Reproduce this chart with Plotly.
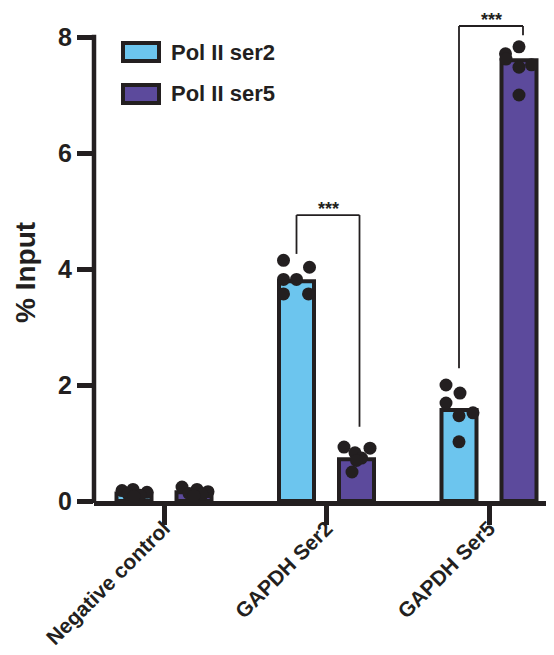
import plotly.graph_objects as go

# ---------------- data ----------------
categories = ["Negative control", "GAPDH Ser2", "GAPDH Ser5"]
series_names = ["Pol II ser2", "Pol II ser5"]
ser2_means = [0.13, 3.79, 1.57]
ser5_means = [0.15, 0.72, 7.60]
ser2_points = [
    [0.18, 0.20, 0.15, 0.12, 0.10, 0.08],
    [4.15, 4.03, 3.82, 3.82, 3.57, 3.57],
    [2.00, 1.86, 1.69, 1.47, 1.52, 1.02],
]
ser5_points = [
    [0.24, 0.20, 0.16, 0.13, 0.11, 0.09],
    [0.93, 0.91, 0.83, 0.74, 0.70, 0.50],
    [7.83, 7.71, 7.62, 7.52, 7.48, 7.00],
]
y_ticks = [0, 2, 4, 6, 8]
sig_labels = ["***", "***"]

# ---------------- layout / style ----------------
PAGE_OFF = 8                      # default body margin of the html page
W_FIG, H_FIG = 554 - PAGE_OFF, 655 - PAGE_OFF
L, R, T, B = 94 - PAGE_OFF, 0, 0, 154
PW = W_FIG - L - R
PH = H_FIG - T - B
PLOT_LEFT = PAGE_OFF + L          # page pixel of plot left edge
PLOT_BOTTOM = PAGE_OFF + H_FIG - B
PX_PER_CAT = 162.5
X_RANGE = [-70 / PX_PER_CAT, -70 / PX_PER_CAT + PW / PX_PER_CAT]
Y_RANGE = [0, 8.5]
BAR_OFFSET = 30 / PX_PER_CAT
BAR_WIDTH = 35 / PX_PER_CAT
INK = "#231f20"
COLORS = ["#6cc5ee", "#5c4a9c"]
FONT = "Liberation Sans, Arial, Helvetica, sans-serif"

# jitter of the dots, in pixels relative to each bar centre
jitter_px = [
    [[-12, -1, 13, -6, 6, 0], [-13, 13, -13, 0, -13, 12], [-13, 1, -13, 0, 14, 0]],
    [[-12, 3, 14, -5, 8, 0], [-12.5, 13.5, -1.5, 5, 0, -4.5], [0, -13.5, -13, 12.5, 0, 0]],
]

# brackets: (category index, left leg bottom, right leg bottom, top, right x nudge px)
brackets = [
    (1, 4.26, 1.28, 4.93, 3),
    (2, 2.29, 8.03, 8.19, 4),
]


def px_x(p):
    return (p - PLOT_LEFT) / PW


def px_y(p):
    return (PLOT_BOTTOM - p) / PH


fig = go.Figure()

means = [ser2_means, ser5_means]
points = [ser2_points, ser5_points]
for s in range(2):
    sign = -1 if s == 0 else 1
    xs = [i + sign * BAR_OFFSET for i in range(len(categories))]
    fig.add_trace(go.Bar(
        x=xs, y=means[s], width=BAR_WIDTH, name=series_names[s],
        marker=dict(color=COLORS[s], line=dict(color=INK, width=4)),
        showlegend=False,
    ))

for s in range(2):
    sign = -1 if s == 0 else 1
    dx, dy = [], []
    for i in range(len(categories)):
        for v, j in zip(points[s][i], jitter_px[s][i]):
            dx.append(i + sign * BAR_OFFSET + j / PX_PER_CAT)
            dy.append(v)
    fig.add_trace(go.Scatter(
        x=dx, y=dy, mode="markers", cliponaxis=False, showlegend=False,
        marker=dict(color=INK, size=13, line=dict(width=0)),
    ))

shapes = []
annotations = []
for (ci, lb, rb, top, nudge), lab in zip(brackets, sig_labels):
    xl = ci - BAR_OFFSET
    xr = ci + BAR_OFFSET + nudge / PX_PER_CAT
    for (x0, y0, x1, y1) in [(xl, lb, xl, top), (xl, top, xr, top), (xr, top, xr, rb)]:
        shapes.append(dict(type="line", xref="x", yref="y", x0=x0, y0=y0, x1=x1, y1=y1,
                           line=dict(color=INK, width=1.8)))
    annotations.append(dict(x=(xl + xr) / 2, y=top, xref="x", yref="y", text=lab,
                            showarrow=False, yanchor="bottom", yshift=-6,
                            font=dict(family=FONT, size=18, color=INK, weight="bold")))

# y axis line, stops at 8
shapes.append(dict(type="line", xref="paper", yref="paper", x0=0, x1=0,
                   y0=px_y(PLOT_BOTTOM + 2), y1=8 / Y_RANGE[1] + 2.2 / PH,
                   line=dict(color=INK, width=4.5)))

# custom legend
leg_rows = [52, 94]
for s in range(2):
    cy = leg_rows[s]
    shapes.append(dict(type="rect", xref="paper", yref="paper",
                       x0=px_x(123), x1=px_x(159), y0=px_y(cy - 9), y1=px_y(cy + 9),
                       fillcolor=COLORS[s], line=dict(color=INK, width=4)))
    annotations.append(dict(x=px_x(169), y=px_y(cy), xref="paper", yref="paper",
                            text=series_names[s], showarrow=False,
                            xanchor="left", yanchor="middle",
                            font=dict(family=FONT, size=22, color=INK, weight="bold")))

# y title
annotations.append(dict(x=px_x(25), y=px_y(273), xref="paper", yref="paper",
                        text="% Input", textangle=-90, showarrow=False,
                        xanchor="center", yanchor="middle",
                        font=dict(family=FONT, size=28, color=INK, weight="bold")))

fig.update_layout(
    width=W_FIG, height=H_FIG,
    margin=dict(l=L, r=R, t=T, b=B, autoexpand=False),
    plot_bgcolor="white", paper_bgcolor="white",
    barmode="overlay",
    shapes=shapes, annotations=annotations,
    font=dict(family=FONT, color=INK),
)
fig.update_xaxes(
    range=X_RANGE, tickvals=list(range(len(categories))), ticktext=categories,
    tickangle=-45, showline=True, linecolor=INK, linewidth=4.5,
    ticks="outside", ticklen=19, tickwidth=4.5, tickcolor=INK,
    ticklabelstandoff=-17,
    showgrid=False, zeroline=False,
    tickfont=dict(family=FONT, size=21, color=INK, weight="bold"),
)
fig.update_yaxes(
    range=Y_RANGE, tickvals=y_ticks, showline=False,
    ticks="outside", ticklen=16, tickwidth=4.5, tickcolor=INK,
    showgrid=False, zeroline=False,
    tickfont=dict(family=FONT, size=25, color=INK, weight="bold"),
)

fig.write_html("out.html")
